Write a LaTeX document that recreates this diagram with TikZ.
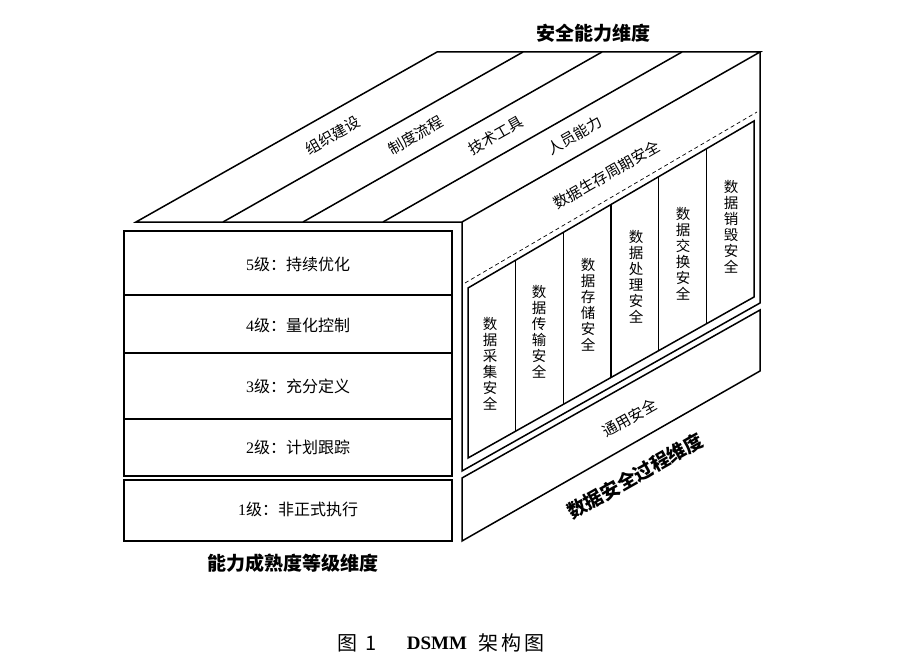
\documentclass[tikz,border=0pt]{standalone}
\usepackage{fontspec}
\setmainfont{Liberation Serif}
\newfontfamily\cjk{Noto Sans CJK SC}
\usetikzlibrary{calc}
\begin{document}
\begin{tikzpicture}[x=1pt,y=-1pt,
  edge/.style={line width=1.5pt, line join=miter},
  lbl/.style={font=\cjk\fontsize{15}{17}\selectfont, inner sep=0pt},
  lvl/.style={font=\fontsize{16}{18}\selectfont, inner sep=0pt},
  dimlbl/.style={font=\cjk\bfseries\fontsize{19}{21}\selectfont, inner sep=0pt},
  col/.style={font=\cjk\fontsize{14.5}{16}\selectfont, align=center, inner sep=0pt},
  captxt/.style={font=\cjk\fontsize{20}{22}\selectfont, inner sep=0pt},
]
\useasboundingbox (0,0) rectangle (898,661);
% top face
\coordinate (B0) at (136,222); \coordinate (B1) at (223,222);
\coordinate (B2) at (303,222); \coordinate (B3) at (383,222);
\coordinate (B4) at (462,222);
\coordinate (T0) at (437,52);  \coordinate (T1) at (523,52);
\coordinate (T2) at (602,52);  \coordinate (T3) at (682,52);
\coordinate (T4) at (760,52);
\draw[edge] (B0) -- (B4) -- (T4) -- (T0) -- cycle;
\foreach \i in {1,2,3} \draw[edge] (B\i) -- (T\i);
% right face, upper box
\coordinate (R1) at (462,471); \coordinate (R2) at (760,303);
\draw[edge] (B4) -- (R1) -- (R2) -- (T4);
\coordinate (D1) at (465,283); \coordinate (D2) at (757,112);
\draw[line width=0.7pt, dash pattern=on 4pt off 3pt] (D1) -- (D2);
% lifecycle box
\coordinate (IA) at (468,288); \coordinate (IB) at (754,121);
\coordinate (IC) at (468,458); \coordinate (ID) at (754,297);
\draw[edge] (IA) -- (IB) -- (ID) -- (IC) -- cycle;
\foreach \f in {1,...,5} \draw[edge] ($(IA)!{\f/6}!(IB)$) -- ($(IC)!{\f/6}!(ID)$);
% lower box
\coordinate (L1) at (462,478); \coordinate (L2) at (760,310);
\coordinate (L3) at (760,371); \coordinate (L4) at (462,541);
\draw[edge] (L1) -- (L2) -- (L3) -- (L4) -- cycle;
% front face
\draw[edge] (124,231) rectangle (452,476);
\foreach \y in {295,353,419} \draw[edge] (124,\y) -- (452,\y);
\draw[edge] (124,480) rectangle (452,541);
% level labels
\node[lvl] (lv5) at (298,264) {5\cjk 级：持续优化};
\node[lvl] (lv4) at (298,325) {4\cjk 级：量化控制};
\node[lvl] (lv3) at (298,386) {3\cjk 级：充分定义};
\node[lvl] (lv2) at (298,447) {2\cjk 级：计划跟踪};
\node[lvl] (lv1) at (298,509) {1\cjk 级：非正式执行};
% top strip labels
\node[lbl, rotate=29.5] (s1) at ($(179.5,222)!0.51!(480,52)$) {组织建设};
\node[lbl, rotate=29.5] (s2) at ($(263,222)!0.51!(562.5,52)$) {制度流程};
\node[lbl, rotate=29.5] (s3) at ($(343,222)!0.51!(642,52)$) {技术工具};
\node[lbl, rotate=29.5] (s4) at ($(422.5,222)!0.51!(721,52)$) {人员能力};
% right face labels
\node[lbl, rotate=30] (lc) at (607,175) {数据生存周期安全};
\node[lbl, rotate=29.5] (gen) at (630,418) {通用安全};
\node[col] (c1) at (490,364) {数\\据\\采\\集\\安\\全};
\node[col] (c2) at (539,332) {数\\据\\传\\输\\安\\全};
\node[col] (c3) at (588,305) {数\\据\\存\\储\\安\\全};
\node[col] (c4) at (636,277) {数\\据\\处\\理\\安\\全};
\node[col] (c5) at (683,254) {数\\据\\交\\换\\安\\全};
\node[col] (c6) at (731,227) {数\\据\\销\\毁\\安\\全};
% dimension labels
\node[dimlbl] (dtop) at (593,33) {安全能力维度};
\node[dimlbl] (dfront) at (293,563) {能力成熟度等级维度};
\node[dimlbl, rotate=29.5] (dright) at (635,476) {数据安全过程维度};
% caption
\node[captxt] (cp1) at (347,643) {图};
\node[captxt] (cp2) at (371,643) {1};
\node[font=\bfseries\fontsize{19}{21}\selectfont, inner sep=0pt] (cp3) at (437,643) {DSMM};
\node[captxt] (cp4) at (511,643) {架\hspace{3pt}构\hspace{3pt}图};
\end{tikzpicture}
\end{document}
